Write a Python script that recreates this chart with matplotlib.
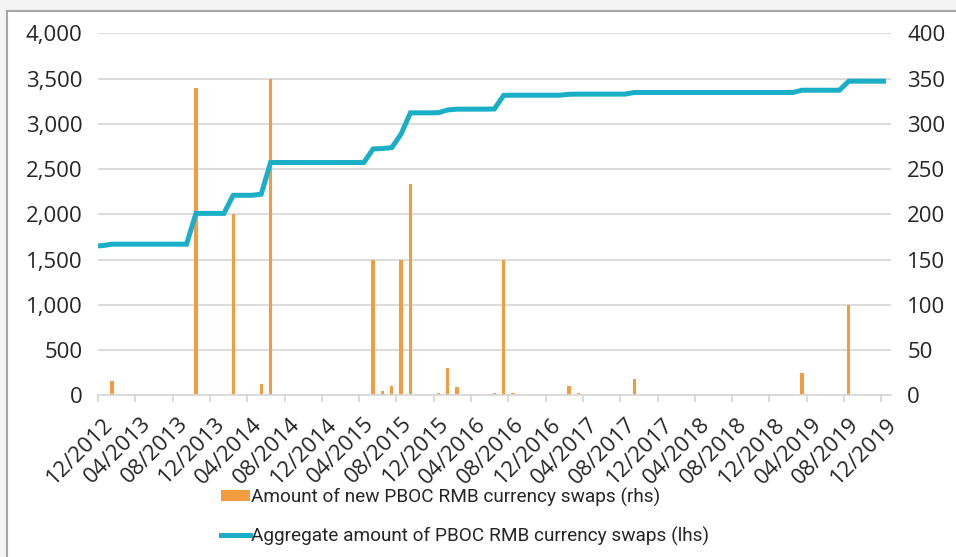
import matplotlib
matplotlib.use("Agg")
import matplotlib.pyplot as plt
import matplotlib.patches as mpatches
from matplotlib.lines import Line2D
from matplotlib.ticker import FuncFormatter, FixedLocator
import pandas as pd

# ---------------- data ----------------
start_month = "2012-12"          # first category on the axis
n_months = 85                    # 12/2012 .. 12/2019
tick_labels = ["12/2012", "04/2013", "08/2013", "12/2013", "04/2014", "08/2014",
               "12/2014", "04/2015", "08/2015", "12/2015", "04/2016", "08/2016",
               "12/2016", "04/2017", "08/2017", "12/2017", "04/2018", "08/2018",
               "12/2018", "04/2019", "08/2019", "12/2019"]

# new swaps (rhs)
bar_months = ["2013-01", "2013-10", "2014-02", "2014-05", "2014-06", "2015-05",
              "2015-06", "2015-07", "2015-08", "2015-09", "2015-12", "2016-01",
              "2016-02", "2016-06", "2016-07", "2016-08", "2017-02", "2017-03",
              "2017-09", "2019-03", "2019-08"]
bar_values = [16, 340, 200, 12, 350, 150, 5, 10, 150, 234, 2, 30, 9, 2, 150, 2,
              10, 2, 18, 25, 100]

# aggregate swaps (lhs), monthly from 11/2012 to 12/2019
line_start = "2012-11"
line_values = [1650, 1654,
               1670, 1670, 1670, 1670, 1670, 1670, 1670, 1670, 1670,
               2010, 2010, 2010, 2010,
               2210, 2210, 2210,
               2222,
               2572, 2572, 2572, 2572, 2572, 2572, 2572, 2572, 2572, 2572, 2572,
               2722, 2727, 2737, 2887,
               3121, 3121, 3121,
               3123, 3153,
               3162, 3162, 3162, 3162,
               3164, 3314,
               3316, 3316, 3316, 3316, 3316, 3316,
               3326,
               3328, 3328, 3328, 3328, 3328, 3328,
               3346, 3346, 3346, 3346, 3346, 3346, 3346, 3346, 3346,
               3346, 3346, 3346, 3346, 3346, 3346, 3346, 3346, 3346,
               3371, 3371, 3371, 3371, 3371,
               3471, 3471, 3471, 3471, 3471]

bar_label = "Amount of new PBOC RMB currency swaps (rhs)"
line_label = "Aggregate amount of PBOC RMB currency swaps (lhs)"

# ---------------- style ----------------
ORANGE = "#F39C3F"
TEAL = "#1AAFC7"
GRID = "#D9D9D9"
TXT = "#262626"
plt.rcParams["font.family"] = ["Open Sans", "DejaVu Sans"]

p0 = pd.Period(start_month, freq="M")
bar_x = [(pd.Period(m, freq="M") - p0).n + 0.5 for m in bar_months]
lp0 = (pd.Period(line_start, freq="M") - p0).n
line_x = [lp0 + i + 0.5 for i in range(len(line_values))]

fig = plt.figure(figsize=(9.56, 5.57), dpi=100)
fig.patch.set_facecolor("#F4F4F4")
W, H = 956, 557
frame = mpatches.Rectangle((7 / W, -0.2), 1.2, 1 - 11 / H + 0.2, transform=fig.transFigure,
                           facecolor="white", edgecolor="#A6A6A6", linewidth=1.5, zorder=-10)
fig.patches.append(frame)

left, right, top, bottom = 98 / W, 890.7 / W, 1 - 33.3 / H, 1 - 395.3 / H
ax = fig.add_axes([left, bottom, right - left, top - bottom])
axr = ax.twinx()
ax.set_zorder(2)
axr.set_zorder(1)
ax.patch.set_visible(False)
axr.patch.set_visible(False)

# bars on rhs
axr.bar(bar_x, bar_values, width=0.36, color=ORANGE, zorder=3, label=bar_label)
axr.set_ylim(0, 400)
axr.set_yticks(range(0, 401, 50))
axr.grid(axis="y", color=GRID, linewidth=1.3, zorder=0)

# line on lhs
ax.plot(line_x, line_values, color=TEAL, linewidth=3.6, solid_joinstyle="miter",
        solid_capstyle="butt", zorder=4, label=line_label)
ax.set_ylim(0, 4000)
ax.set_yticks(range(0, 4001, 500))
ax.yaxis.set_major_formatter(FuncFormatter(lambda v, p: f"{int(v):,}"))

ax.set_xlim(0, n_months)
for a in (ax, axr):
    for s in a.spines.values():
        s.set_visible(False)
    a.tick_params(axis="y", length=0, labelsize=16, labelcolor=TXT)
ax.tick_params(axis="y", pad=11)
axr.tick_params(axis="y", pad=12)

ax.spines["bottom"].set_visible(True)
ax.spines["bottom"].set_color(GRID)
ax.spines["bottom"].set_linewidth(1.3)

# x ticks: marks at boundaries every 4 months, labels at category centres
ax.xaxis.set_major_locator(FixedLocator(list(range(0, n_months, 4))))
ax.xaxis.set_major_formatter(FuncFormatter(lambda v, p: ""))
ax.tick_params(axis="x", which="major", length=5, color=GRID, width=1.3)
ax.set_xticks([i * 4 + 0.5 for i in range(len(tick_labels))], minor=True)
ax.set_xticklabels(tick_labels, minor=True, rotation=45, ha="right", va="top",
                   rotation_mode="anchor", fontsize=16, color=TXT)
ax.tick_params(axis="x", which="minor", length=0, pad=13)
axr.set_xlim(0, n_months)

# legend
handles = [mpatches.Patch(facecolor=ORANGE, edgecolor="none", label=bar_label),
           Line2D([0], [0], color=TEAL, linewidth=3.6, label=line_label)]
leg = fig.legend(handles=handles, loc="center left", bbox_to_anchor=(221 / W, 1 - 516.5 / H),
                 frameon=False, handlelength=1.5, handleheight=0.45,
                 handletextpad=0.1, labelspacing=1.05, borderpad=0, borderaxespad=0,
                 prop={"family": ["Roboto", "DejaVu Sans"], "size": 13.7})
for t in leg.get_texts():
    t.set_color(TXT)

fig.savefig("out.png", dpi=100, facecolor=fig.get_facecolor())
